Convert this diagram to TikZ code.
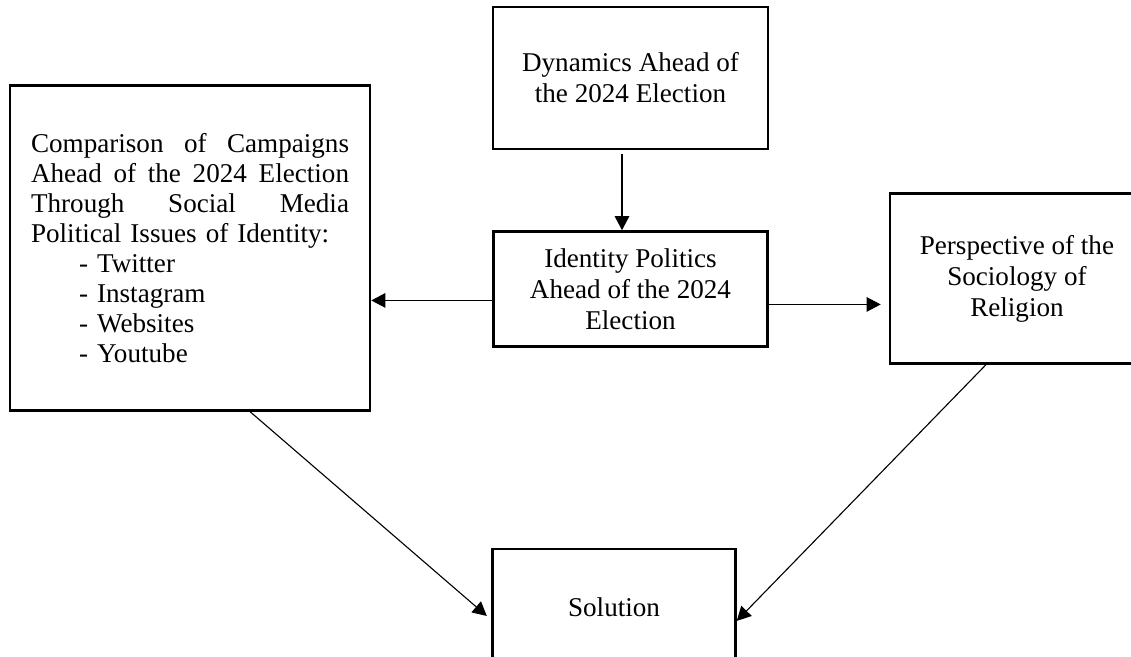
\documentclass[tikz,border=0pt]{standalone}
\usepackage{fontspec}
\setmainfont{Liberation Serif}
\usetikzlibrary{arrows.meta, positioning}

\newcommand{\pxu}{0.45pt}
\newcommand{\fullline}[1]{\leavevmode\hbox to 143.1pt{#1}}

\begin{document}
\begin{tikzpicture}[
    x=0.45pt, y=-0.45pt,
    % Plain Word-like styles
    mainbox/.style={rectangle, draw=black, line width=1.1pt, fill=white,
        align=center, inner sep=0pt, font=\fontsize{12.2pt}{14pt}\selectfont},
    listbox/.style={rectangle, draw=black, line width=1.1pt, fill=white,
        text width=143.1pt, align=left, inner sep=0pt,
        font=\fontsize{12.2pt}{13.5pt}\selectfont},
    arrow/.style={-{Triangle[length=6.3pt, width=6.5pt]}, line width=0.5pt, draw=black},
]
\useasboundingbox (0,0) rectangle (1131,657);

% ============ ROW 1: Dynamics ============
\node[mainbox, minimum width=123.75pt, minimum height=63.9pt] (dyn) at (630.5,78)
    {Dynamics Ahead of\\the 2024 Election};

% ============ ROW 2: Identity Politics with side boxes ============
\node[mainbox, minimum width=123.3pt, minimum height=51.75pt, below=36pt of dyn] (ident)
    {Identity Politics\\Ahead of the 2024\\Election};

\node[listbox, minimum width=162pt, minimum height=146.25pt,
    left=54.45pt of ident, yshift=18.45pt] (comp)
    {\fullline{Comparison\hfill of\hfill Campaigns}\\
     \fullline{Ahead\hfill of\hfill the\hfill 2024\hfill Election}\\
     \fullline{Through\hfill Social\hfill Media}\\
     Political Issues of Identity:\\
     \hspace*{21.6pt}- Twitter\\
     \hspace*{21.6pt}- Instagram\\
     \hspace*{21.6pt}- Websites\\
     \hspace*{21.6pt}- Youtube};

\node[mainbox, minimum width=114.3pt, minimum height=76.5pt,
    right=54pt of ident, yshift=4.7pt] (socio)
    {Perspective of the\\Sociology of\\Religion};

% ============ ROW 3: Solution ============
\node[mainbox, minimum width=109.35pt, minimum height=52.2pt,
    below=90pt of ident, xshift=-7.4pt] (sol) {Solution};

% ============ Arrows ============
\draw[arrow, shorten <=4*\pxu] ([xshift=-8.5*\pxu]dyn.south) -- ([xshift=-8.5*\pxu]dyn.south |- ident.north);

\draw[arrow] ([yshift=-11.5*\pxu]ident.west) -- ([yshift=-11.5*\pxu]ident.west -| comp.east);
\draw[arrow, shorten >=8*\pxu] ([yshift=-15.5*\pxu]ident.east) -- ([yshift=-15.5*\pxu]ident.east -| socio.west);

% Both sides down to the solution
\draw[arrow, shorten >=6*\pxu] ([xshift=60*\pxu]comp.south) -- ([yshift=-13*\pxu]sol.west);
\draw[arrow] ([xshift=-31*\pxu]socio.south) -- ([yshift=-14*\pxu]sol.east);

\end{tikzpicture}
\end{document}
